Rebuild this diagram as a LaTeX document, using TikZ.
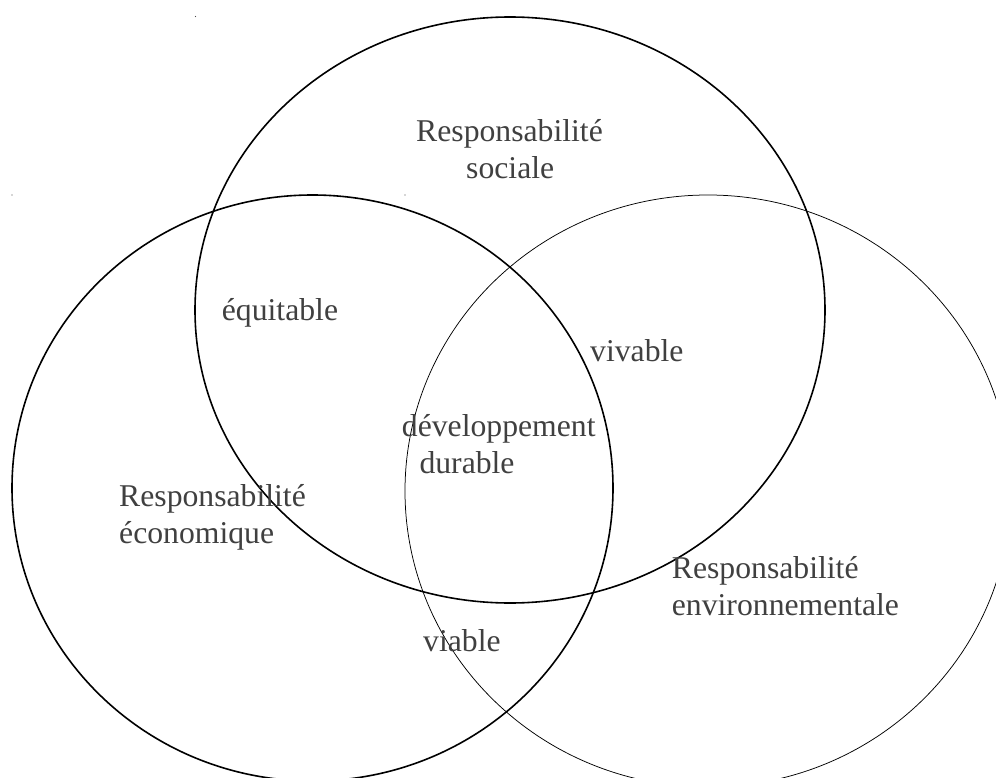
\documentclass[tikz,border=0pt]{standalone}
\usepackage{fontspec}
\setmainfont{Liberation Serif}
\definecolor{txt}{HTML}{404040}
\begin{document}
\begin{tikzpicture}[x=1pt,y=-1pt,
  thick ring/.style={draw=black,line width=1.6pt},
  thin ring/.style={draw=black,line width=0.75pt},
  lbl/.style={anchor=base west,inner sep=0pt,text=txt,font=\fontsize{31.7pt}{37pt}\selectfont},
  speck/.style={fill=black!70}]
\useasboundingbox (0,0) rectangle (996,778);
% circles
\draw[thick ring] (510,310) ellipse [x radius=315pt, y radius=293pt];
\draw[thick ring] (312.5,488) ellipse [x radius=300.5pt, y radius=293pt];
\draw[thin ring] (708,491) ellipse [x radius=303pt, y radius=296pt];
% tiny corner specks
\fill[speck] (195.5,16.5) circle (0.7pt);
\fill[speck] (12,195) circle (0.7pt);
\fill[speck] (405,195) circle (0.7pt);
% labels
\node[lbl] (soc1) at (416,141.7) {Responsabilité};
\node[lbl] (soc2) at (466,179) {sociale};
\node[lbl] (eco1) at (119,506) {Responsabilité};
\node[lbl] (eco2) at (119,543) {économique};
\node[lbl] (env1) at (671.7,578.5) {Responsabilité};
\node[lbl] (env2) at (671.7,615.5) {environnementale};
\node[lbl] (equ) at (221.7,320.7) {équitable};
\node[lbl] (viv) at (590,361.7) {vivable};
\node[lbl] (via) at (423,651.7) {viable};
\node[lbl] (dd1) at (401.7,436) {développement};
\node[lbl] (dd2) at (419.3,473) {durable};
\end{tikzpicture}
\end{document}
